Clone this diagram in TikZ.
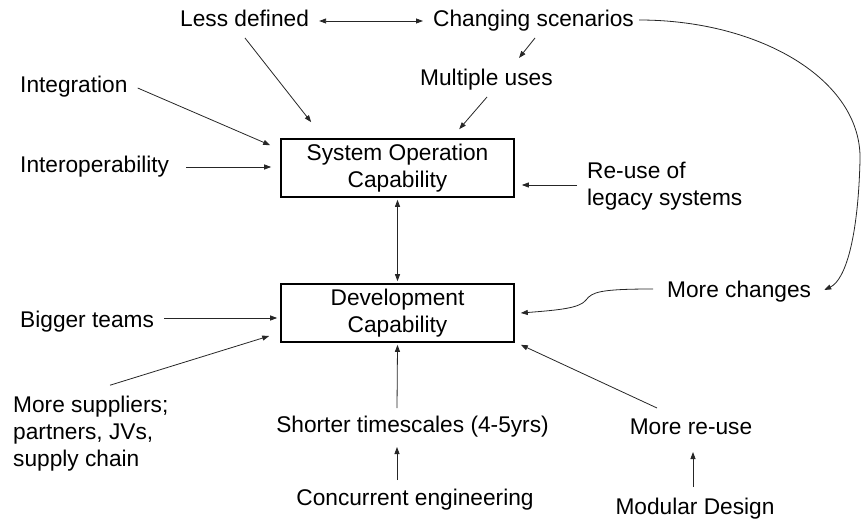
\documentclass[tikz,border=0pt]{standalone}
\usepackage{fontspec}
\setmainfont{Liberation Sans}
\usetikzlibrary{arrows.meta,calc}
\begin{document}
\begin{tikzpicture}[x=1pt,y=-1pt,
  every node/.style={font=\fontsize{22.7}{27}\selectfont, inner sep=0pt},
  lbl/.style={anchor=base west},
  clbl/.style={anchor=base},
  mlbl/.style={anchor=west, align=left},
  capbox/.style={draw=black, line width=1.6pt, minimum width=233pt, minimum height=58pt, align=center, anchor=center},
  arr/.style={draw=black!85, line width=0.8pt, -{Triangle[length=7pt,width=5pt]}},
  darr/.style={draw=black!85, line width=0.8pt, {Triangle[length=7pt,width=5pt]}-{Triangle[length=7pt,width=5pt]}}
]
\useasboundingbox (0,0) rectangle (861,521);

% boxes
\node[capbox] (sys) at (397.5,168) {System Operation\\Capability};
\node[capbox] (dev) at (397.5,313) {Development\\Capability};

% labels
\node[lbl] (less) at (180,27) {Less defined};
\node[lbl] (chg) at (433,27) {Changing scenarios};
\node[lbl] (mult) at (420,86) {Multiple uses};
\node[lbl] (integ) at (20,93) {Integration};
\node[lbl] (interop) at (20,173) {Interoperability};
\node[mlbl] (reuse) at (587,186) {Re-use of\\legacy systems};
\node[lbl] (big) at (20,327) {Bigger teams};
\node[mlbl] (supp) at (13,434) {More suppliers;\\partners, JVs,\\supply chain};
\node[lbl] (morechg) at (667,297) {More changes};
\node[clbl] (short) at (412.5,432) {Shorter timescales (4-5yrs)};
\node[clbl] (conc) at (415,505) {Concurrent engineering};
\node[clbl] (morereuse) at (691,434) {More re-use};
\node[clbl] (modular) at (695,514) {Modular Design};

% connectors
\draw[darr] ($(less.base east)+(10,-6)$) -- ($(chg.base west)+(-10,-6)$);
\draw[arr] ($(chg.base west)+(102,11)$) -- ($(mult.base west)+(99,-28)$);
\draw[arr] ($(mult.base west)+(67,11)$) -- ($(sys.north west)+(179,-9)$);
\draw[arr] ($(less.base west)+(65,11)$) -- ($(sys.north west)+(31,-16)$);
\draw[arr] ($(integ.base east)+(10,-5)$) -- ($(sys.north west)+(-10,7)$);
\draw[arr] ($(interop.base east)+(17,-6)$) -- ($(sys.west)+(-9,-1)$);
\draw[arr] ($(reuse.west)+(-10,-1)$) -- ($(sys.east)+(7,17)$);
\draw[darr] ($(sys.south)+(0,2)$) -- ($(dev.north)+(0,-2)$);
\draw[arr] ($(big.base east)+(10,-9)$) -- ($(dev.west)+(-3,5)$);
\draw[arr] ($(supp.north west)+(97,-11)$) -- ($(dev.west)+(-11,23)$);
\draw[arr] ($(short.base)+(-15.5,-24)$) -- ($(dev.south)+(0,2)$);
\draw[arr] ($(conc.base)+(-18,-25)$) -- ($(short.base)+(-15.5,15)$);
\draw[arr] ($(morereuse.base)+(-34,-26)$) -- ($(dev.south east)+(6,2)$);
\draw[arr] ($(modular.base)+(-2,-27)$) -- ($(morereuse.base)+(2,18)$);
\draw[arr] ($(chg.base east)+(5,-7)$) .. controls (760,20) and (862,80) .. (860,160)
  .. controls (858,240) and (845,280) .. ($(morechg.base east)+(13,-7)$);
\draw[arr] ($(morechg.base west)+(-14,-8)$) .. controls (600,289) and (592,292) .. (586,300)
  .. controls (580,308) and (560,310) .. ($(dev.east)+(6,0)$);
\end{tikzpicture}
\end{document}
